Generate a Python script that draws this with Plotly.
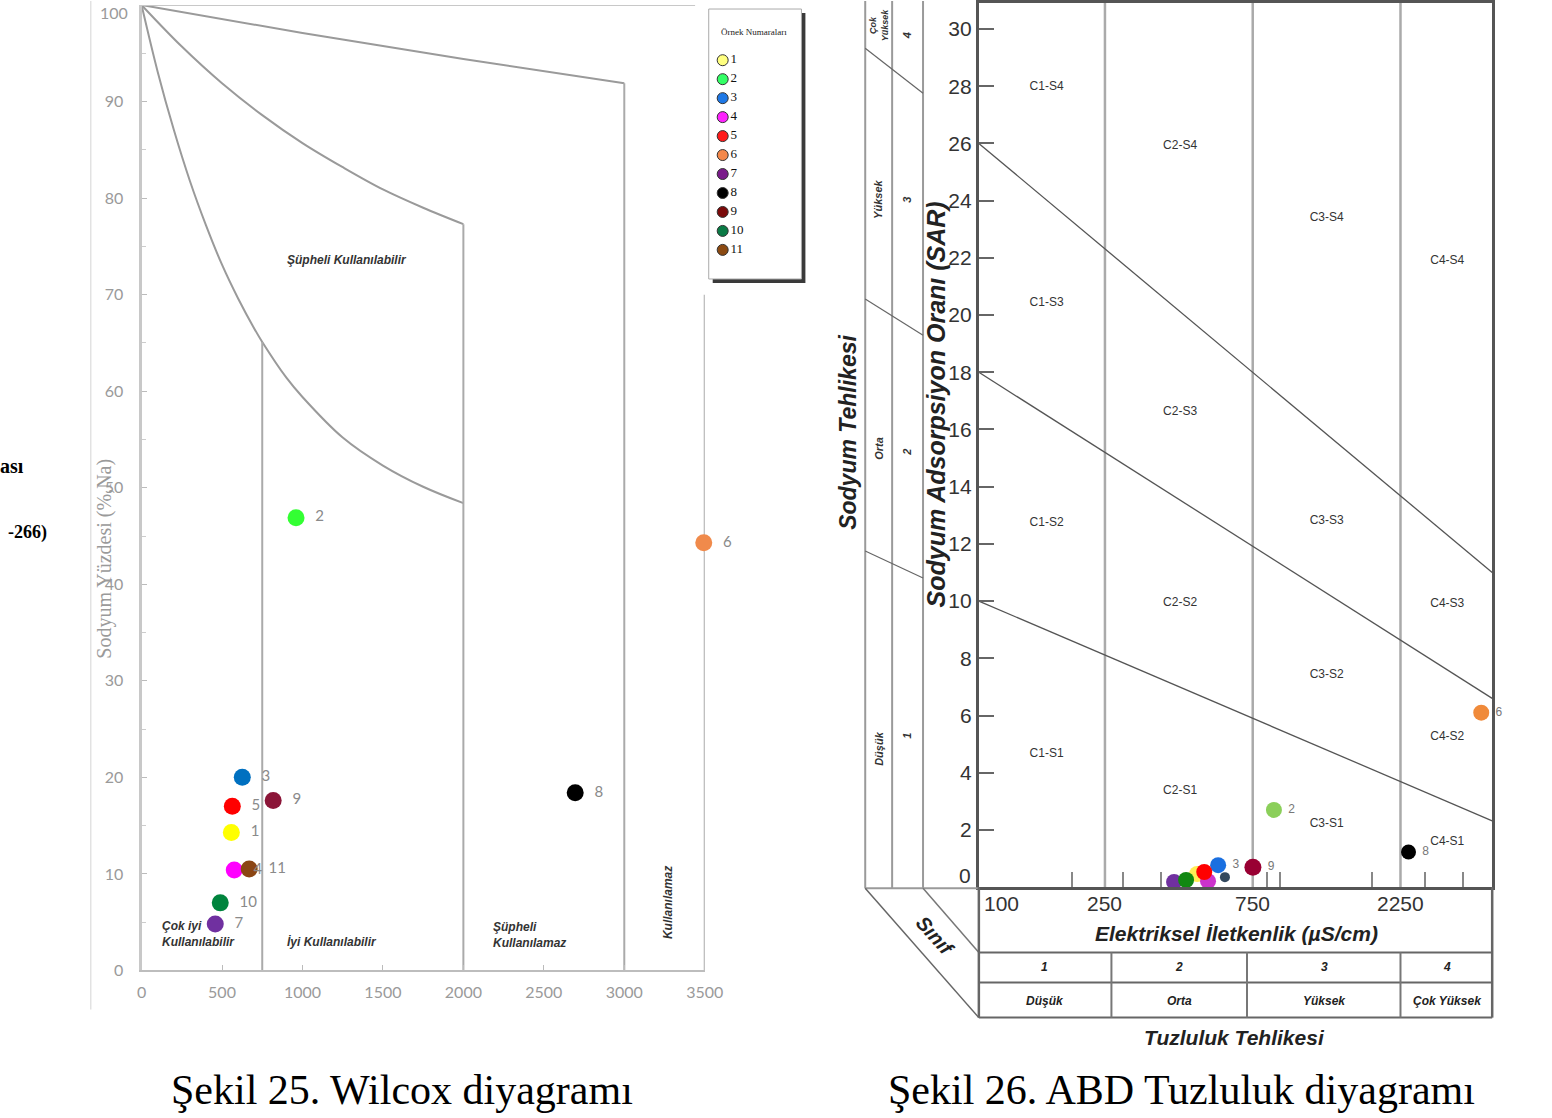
import math
import plotly.graph_objects as go

W, H = 1552, 1118          # reference frame (pixel coordinates used below)
FIG_W, FIG_H = 1571, 1132  # figure size (compensates page fit scaling)
def PX(x): return x / W
def PY(y): return 1 - y / H

# ---------------- data ----------------
samples = ["1", "2", "3", "4", "5", "6", "7", "8", "9", "10", "11"]
legend_colors = ["#FFFF80", "#33FF66", "#1E78E6", "#FF22FF", "#FF1A1A", "#F4884A",
                 "#7A1A8A", "#000000", "#7A0A0A", "#0A7A45", "#8B4A12"]

# Wilcox diagram (EC in uS/cm, Na %)
wilcox_colors = ["#FFFF00", "#33FF33", "#0070C0", "#FF00FF", "#FF0000", "#F08A4B",
                 "#7030A0", "#000000", "#8B1538", "#00843D", "#8B4513"]
wilcox_ec = [558, 960, 626, 576, 564, 3494, 458, 2695, 818, 489, 669]
wilcox_na = [14.3, 46.9, 20.0, 10.4, 17.0, 44.3, 4.8, 18.4, 17.6, 7.0, 10.5]
wilcox_xticks = [0, 500, 1000, 1500, 2000, 2500, 3000, 3500]
wilcox_yticks = [0, 10, 20, 30, 40, 50, 60, 70, 80, 90, 100]

# Wilcox class boundaries
curve1_x = [0, 100, 200, 300, 400, 500, 600, 700, 750, 900, 1000, 1250, 1500, 1750, 2000]
curve1_y = [100, 93.1, 87.1, 81.8, 77.2, 73.1, 69.6, 66.5, 65.1, 61.4, 59.4, 55.2, 52.3, 50.1, 48.4]
curve2_x = [0, 250, 500, 750, 1000, 1250, 1500, 1750, 2000]
curve2_y = [100, 95.7, 91.9, 88.6, 85.7, 83.2, 80.9, 79.0, 77.3]
curve3_x = [0, 1000, 2000, 3000]
curve3_y = [100, 97.1, 94.4, 91.9]
wil_vert_x = [750, 2000, 3000, 3500]
wil_vert_top = [65.1, 77.3, 91.9, 70.0]
wil_top_end = 3440

# USSL diagram (EC in uS/cm, SAR)
ussl_colors = ["#FFEE55", "#8BCF5A", "#1A6FE0", "#CC33CC", "#FF0000", "#F08A3A",
               "#7030A0", "#000000", "#990033", "#118811", "#34495E"]
ussl_ec = [496, 878, 580, 538, 523, 4101, 418, 2388, 751, 457, 610]
ussl_sar = [0.46, 2.70, 0.77, 0.21, 0.53, 6.1, 0.18, 1.23, 0.70, 0.25, 0.35]
ussl_text = ["", "2", "3", "", "", "6", "", "8", "9", "", ""]
ussl_size = [16, 16, 16, 16, 16, 16, 16, 15, 17, 16, 10]

ussl_xrange = [97.9, 4449]
ussl_xticks = [100, 250, 750, 2250]
ussl_class_ec = [250, 750, 2250]
ussl_lines_sar = [[10.0, 2.32], [18.0, 6.6], [26.0, 11.0]]
ussl_minor = [195, 285, 378, 835, 918, 1815, 2690, 3590]
ussl_yticks = list(range(0, 31, 2))

class_labels = ["C1-S4", "C1-S3", "C1-S2", "C1-S1",
                "C2-S4", "C2-S3", "C2-S2", "C2-S1",
                "C3-S4", "C3-S3", "C3-S2", "C3-S1",
                "C4-S4", "C4-S3", "C4-S2", "C4-S1"]
class_ec = [162] * 4 + [437] * 4 + [1300] * 4 + [3186] * 4
class_sar = [27.96, 20.42, 12.74, 4.67,
             25.9, 16.6, 9.93, 3.37,
             23.4, 12.8, 7.4, 2.2,
             21.9, 9.9, 5.26, 1.58]

fig = go.Figure()

# ---------------- Wilcox ----------------
LC = "#9a9a9a"
for cx, cy in [(curve1_x, curve1_y), (curve2_x, curve2_y), (curve3_x, curve3_y)]:
    fig.add_trace(go.Scatter(x=cx, y=cy, mode="lines", line=dict(color=LC, width=2, shape="spline", smoothing=1),
                             xaxis="x", yaxis="y", hoverinfo="skip"))
for vx, vt in zip(wil_vert_x, wil_vert_top):
    fig.add_trace(go.Scatter(x=[vx, vx], y=[0, vt], mode="lines", line=dict(color="#aaaaaa", width=2),
                             xaxis="x", yaxis="y", hoverinfo="skip"))
fig.add_trace(go.Scatter(x=[0, wil_top_end], y=[100, 100], mode="lines", line=dict(color="#c8c8c8", width=2),
                         xaxis="x", yaxis="y", hoverinfo="skip"))
fig.add_trace(go.Scatter(x=wilcox_ec, y=wilcox_na, mode="markers+text", text=["  " + s for s in samples],
                         textposition="middle right", textfont=dict(family="Lato", size=15, color="#8a8a8a"),
                         marker=dict(color=wilcox_colors, size=17, opacity=1, line=dict(width=0)),
                         xaxis="x", yaxis="y", cliponaxis=False))

# ---------------- legend (hidden axes) ----------------
leg_y = [59 + 18.9 * i for i in range(len(samples))]
fig.add_trace(go.Scatter(x=[720] * len(samples), y=leg_y, mode="markers+text", text=samples,
                         textposition="middle right",
                         textfont=dict(family="Liberation Serif", size=13, color="#111"),
                         marker=dict(color=legend_colors, size=11, opacity=1, line=dict(color="#333", width=1)),
                         xaxis="x3", yaxis="y3", cliponaxis=False, hoverinfo="skip"))

# ---------------- USSL ----------------
for ce in ussl_class_ec:
    fig.add_trace(go.Scatter(x=[ce, ce], y=[0, 30.91], mode="lines", line=dict(color="#aaaaaa", width=2.5),
                             xaxis="x2", yaxis="y2", hoverinfo="skip"))
for s in ussl_lines_sar:
    fig.add_trace(go.Scatter(x=ussl_xrange, y=s, mode="lines", line=dict(color="#555555", width=1.3),
                             xaxis="x2", yaxis="y2", hoverinfo="skip"))
fig.add_trace(go.Scatter(x=class_ec, y=class_sar, mode="text", text=class_labels,
                         textfont=dict(family="Liberation Sans", size=12, color="#333"),
                         xaxis="x2", yaxis="y2", hoverinfo="skip"))
fig.add_trace(go.Scatter(x=ussl_ec, y=ussl_sar, mode="markers+text", text=[" " + t for t in ussl_text],
                         textposition="middle right", textfont=dict(family="Liberation Sans", size=12, color="#777"),
                         marker=dict(color=ussl_colors, size=ussl_size, opacity=1, line=dict(width=0)),
                         xaxis="x2", yaxis="y2", cliponaxis=False))

shapes = []
def line(x0, y0, x1, y1, color="#999", width=2):
    shapes.append(dict(type="line", xref="paper", yref="paper", x0=PX(x0), y0=PY(y0), x1=PX(x1), y1=PY(y1),
                       line=dict(color=color, width=width)))

# faint image border at left
line(86, 0, 86, 1005, "#e2e2e2", 1.5)

# legend box with shadow (below traces)
shapes.append(dict(type="rect", xref="paper", yref="paper", x0=PX(710), y0=PY(281), x1=PX(803), y1=PY(12),
                   fillcolor="#3a3a3a", line=dict(width=0), layer="below"))
shapes.append(dict(type="rect", xref="paper", yref="paper", x0=PX(706), y0=PY(277), x1=PX(799), y1=PY(8),
                   fillcolor="white", line=dict(color="#aaaaaa", width=1), layer="below"))

# USSL sodium strip
SC = "#9a9a9a"
for xv in [863, 890, 921]:
    line(xv, 0, xv, 884, SC, 2)
line(863, 884, 977, 884, SC, 2)
line(863, 884, 977, 1013, "#666", 1.5)
line(921, 884, 977, 948, "#777", 1.5)
line(863, 47, 921, 92, "#666", 1.2)
line(863, 297, 921, 333, "#666", 1.2)
line(863, 548, 921, 575, "#666", 1.2)
# table under x-axis
line(977, 883, 977, 1013, "#666", 2.5)
line(1492, 883, 1492, 1013, "#666", 2.5)
for yv in [948, 978, 1013]:
    line(977, yv, 1492, yv, "#666", 2)
for xv in [1110, 1246, 1400]:
    line(xv, 948, xv, 1013, "#777", 2)

ann = []
def text(x, y, t, size=12, color="#222", family="Liberation Sans", bold=False, italic=False,
         angle=0, xanchor="center", yanchor="middle", align="center"):
    if bold:
        t = "<b>" + t + "</b>"
    if italic:
        t = "<i>" + t + "</i>"
    ann.append(dict(x=PX(x), y=PY(y), xref="paper", yref="paper", text=t, showarrow=False,
                    font=dict(family=family, size=size, color=color), textangle=angle,
                    xanchor=xanchor, yanchor=yanchor, align=align))

# cut-off text at far left
text(21, 463, "ası", 20, "#000", "Liberation Serif", bold=True, xanchor="right")
text(44, 530, "-266)", 18, "#000", "Liberation Serif", bold=True, xanchor="right")

# Wilcox texts
text(100, 556, "Sodyum Yüzdesi (%,Na)", 20, "#9a9a9a", "Liberation Serif", angle=-90)
text(343, 258, "Şüpheli Kullanılabilir", 12, "#333", bold=True, italic=True)
text(156, 930, "Çok iyi<br>Kullanılabilir", 12, "#333", bold=True, italic=True, xanchor="left", align="left")
text(328, 937, "İyi Kullanılabilir", 12, "#333", bold=True, italic=True)
text(488, 931, "Şüpheli<br>Kullanılamaz", 12, "#333", bold=True, italic=True, xanchor="left", align="left")
text(665, 898, "Kullanılamaz", 12, "#333", bold=True, italic=True, angle=-90)
text(751, 31, "Örnek Numaraları", 9, "#222", "Liberation Serif")
# top tick label of the Na axis (cut by the frame in the original)
ann.append(dict(x=PX(125), y=1, xref="paper", yref="paper", text=str(wilcox_yticks[-1]), showarrow=False,
                font=dict(family="Lato", size=16, color="#9a9a9a"), xanchor="right", yanchor="top"))

# USSL texts
text(845, 430, "Sodyum Tehlikesi", 23, "#222", bold=True, italic=True, angle=-90)
text(934, 402, "Sodyum Adsorpsiyon Oranı (SAR)", 25, "#222", bold=True, italic=True, angle=-90)
for yy, tt in [(745, "Düşük"), (446, "Orta"), (198, "Yüksek")]:
    text(876, yy, tt, 11, "#333", bold=True, italic=True, angle=-90)
text(877, 24, "Çok<br>Yüksek", 9, "#333", bold=True, italic=True, angle=-90)
for yy, tt in [(732, "1"), (450, "2"), (198, "3"), (35, "4")]:
    text(905, yy, tt, 11, "#333", bold=True, italic=True, angle=-90)
text(933, 932, "Sınıf", 20, "#222", bold=True, italic=True, angle=48)
# EC tick labels placed on the log axis
for v in ussl_xticks:
    ann.append(dict(x=math.log10(v), y=PY(899), xref="x2", yref="paper", text=str(v), showarrow=False,
                    font=dict(family="Liberation Sans", size=21, color="#333"),
                    xanchor="left" if v == ussl_xticks[0] else "center", yanchor="middle"))
# raised zero label of the SAR axis
text(971, 871, str(ussl_yticks[0]), 21, "#333", xanchor="right")
text(1235, 929, "Elektriksel İletkenlik (µS/cm)", 21, "#222", bold=True, italic=True)
for xx, t1, t2 in [(1043, "1", "Düşük"), (1178, "2", "Orta"), (1324, "3", "Yüksek"), (1447, "4", "Çok Yüksek")]:
    text(xx, 963, t1, 12, "#222", bold=True, italic=True)
    text(xx, 996, t2, 12, "#222", bold=True, italic=True)
text(1233, 1033, "Tuzluluk Tehlikesi", 21, "#222", bold=True, italic=True)

# captions
text(398, 1085, "Şekil 25. Wilcox diyagramı", 42, "#000", "Liberation Serif")
text(1180, 1085, "Şekil 26. ABD Tuzluluk diyagramı", 42, "#000", "Liberation Serif")

fig.update_layout(
    width=FIG_W, height=FIG_H, margin=dict(l=0, r=0, t=0, b=0),
    paper_bgcolor="white", plot_bgcolor="rgba(0,0,0,0)", showlegend=False,
    shapes=shapes, annotations=ann,
    xaxis=dict(domain=[PX(137), PX(702)], range=[0, 3500], tickvals=wilcox_xticks,
               showgrid=False, zeroline=False, showline=True, linecolor="#bdbdbd", linewidth=2,
               ticks="inside", ticklen=5, tickcolor="#bbbbbb", ticklabelstandoff=6,
               tickfont=dict(family="Lato", size=16, color="#9a9a9a"), anchor="y"),
    yaxis=dict(domain=[PY(966), PY(4)], range=[0, 100], tickvals=wilcox_yticks,
               ticktext=[str(v) for v in wilcox_yticks[:-1]] + [""],
               showgrid=False, zeroline=False, showline=True, linecolor="#c8c8c8", linewidth=3,
               ticks="inside", ticklen=5, tickcolor="#bbbbbb", ticklabelstandoff=12,
               minor=dict(dtick=5, ticks="inside", ticklen=4, tickcolor="#cccccc"),
               tickfont=dict(family="Lato", size=16, color="#9a9a9a"), anchor="x"),
    xaxis2=dict(domain=[PX(977), PX(1492)], type="log",
                range=[math.log10(ussl_xrange[0]), math.log10(ussl_xrange[1])],
                tickvals=ussl_class_ec, showticklabels=False,
                showgrid=False, zeroline=False, showline=True, mirror=True, linecolor="#555", linewidth=3,
                ticks="", ticklen=0,
                minor=dict(tickmode="array", tickvals=ussl_minor, ticks="inside", ticklen=15,
                           tickcolor="#888", tickwidth=1.5, showgrid=False),
                anchor="y2"),
    yaxis2=dict(domain=[PY(883), PY(2)], range=[0, 30.91], tickvals=ussl_yticks,
                ticktext=[""] + [str(v) for v in ussl_yticks[1:]],
                showgrid=False, zeroline=False, showline=True, mirror=True, linecolor="#555", linewidth=3,
                ticks="inside", ticklen=15, tickcolor="#666", tickwidth=1.5, ticklabelstandoff=0,
                tickfont=dict(family="Liberation Sans", size=21, color="#333"), anchor="x2"),
    xaxis3=dict(domain=[PX(706), PX(799)], range=[706, 799], visible=False, anchor="y3"),
    yaxis3=dict(domain=[PY(277), PY(8)], range=[277, 8], visible=False, anchor="x3"),
)

fig.write_html("out.html")
